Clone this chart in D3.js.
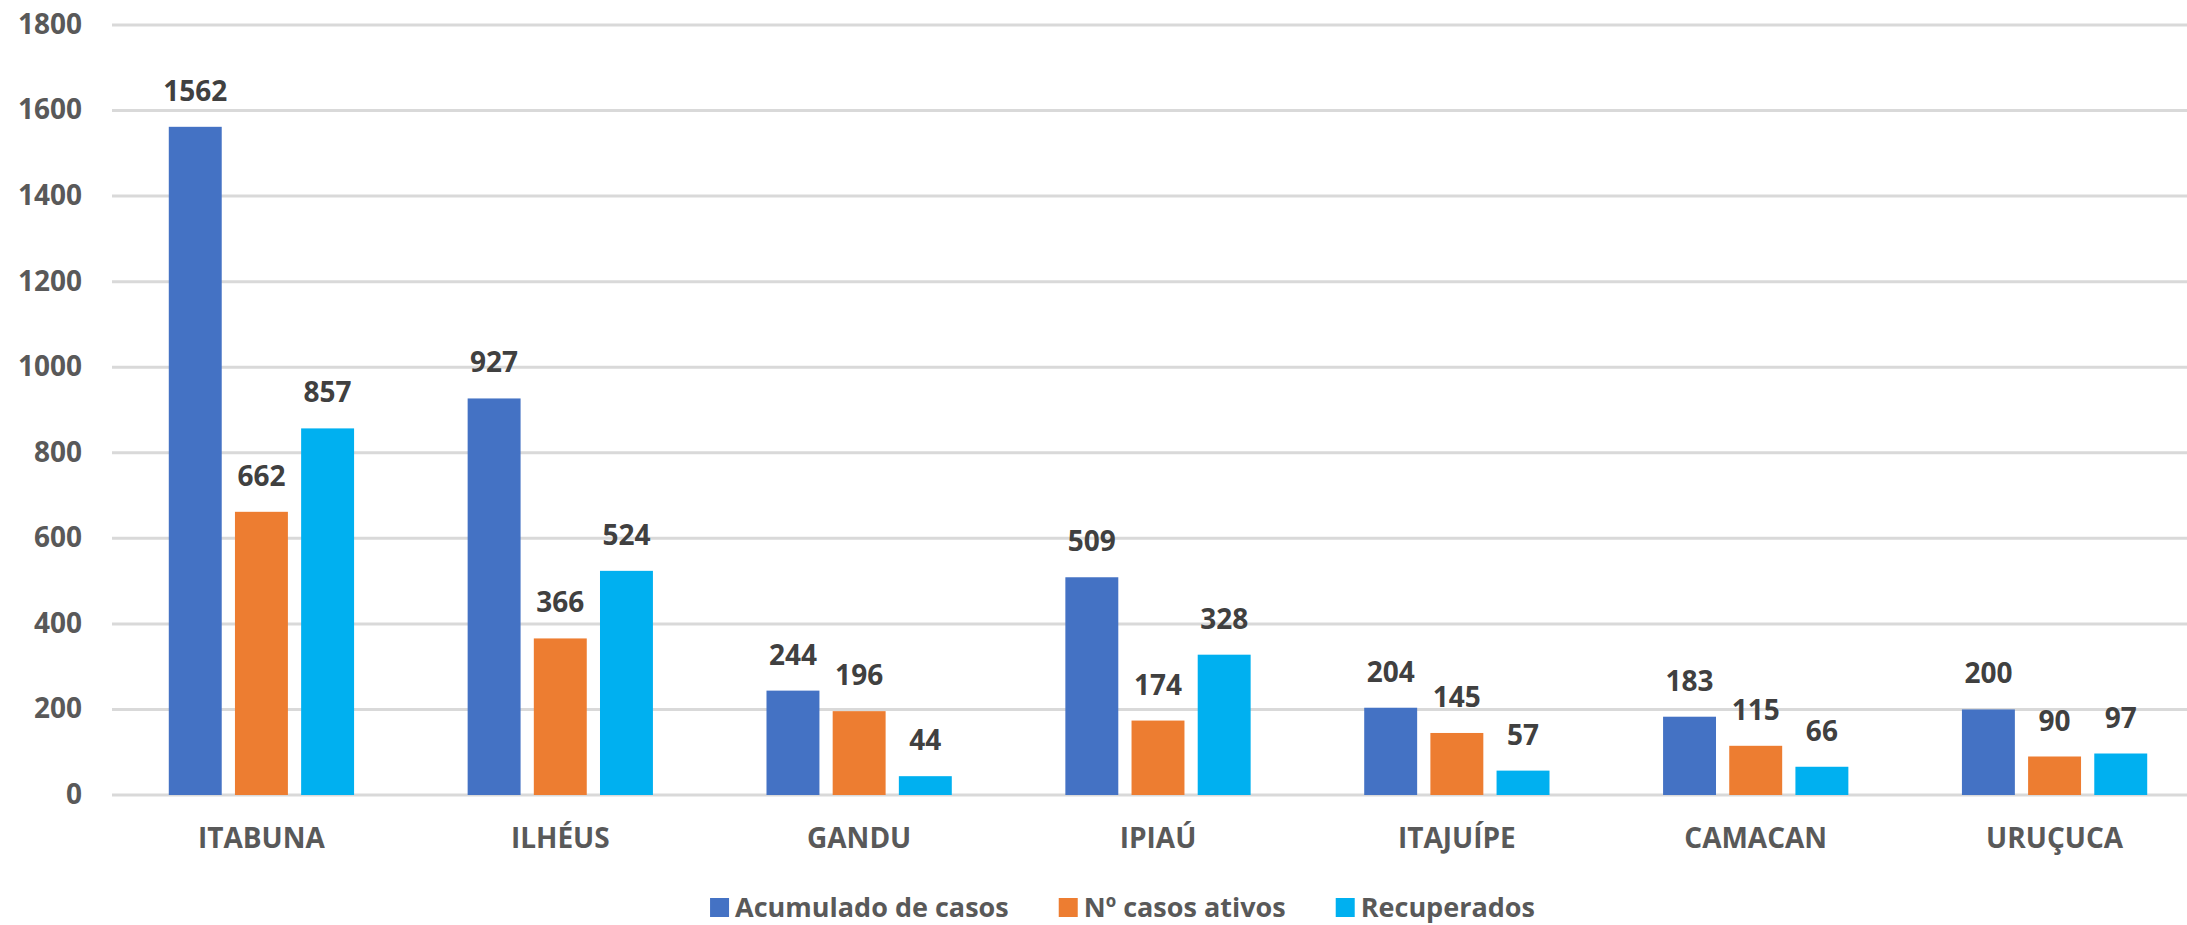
<!DOCTYPE html>
<html>
<head>
<meta charset="utf-8">
<script src="https://cdn.jsdelivr.net/npm/d3@7"></script>
<style>
  html, body { margin: 0; padding: 0; background: #ffffff; }
  svg { display: block; }
  text { font-family: "Open Sans", "Noto Sans", sans-serif; }
</style>
</head>
<body>
<svg id="chart" width="2187" height="925"></svg>
<script>
const categories = ["ITABUNA", "ILHÉUS", "GANDU", "IPIAÚ", "ITAJUÍPE", "CAMACAN", "URUÇUCA"];
const seriesNames = ["Acumulado de casos", "Nº casos ativos", "Recuperados"];
const acumulado = [1562, 927, 244, 509, 204, 183, 200];
const ativos = [662, 366, 196, 174, 145, 115, 90];
const recuperados = [857, 524, 44, 328, 57, 66, 97];
const yTicks = [0, 200, 400, 600, 800, 1000, 1200, 1400, 1600, 1800];
const colors = ["#4472C4", "#ED7D31", "#00B0F0"];

const seriesValues = [acumulado, ativos, recuperados];
const svg = d3.select("#chart");

const plotLeft = 112, plotRight = 2204, yBase = 795, yTop = 25;

const x0 = d3.scaleBand().domain(categories).range([plotLeft, plotRight])
  .paddingInner(0.38).paddingOuter(0.19);
const x1 = d3.scaleBand().domain(seriesNames).range([0, x0.bandwidth()])
  .paddingInner(0.2).paddingOuter(0);
const y = d3.scaleLinear().domain([0, 1800]).range([yBase, yTop]);

// gridlines
svg.append("g").selectAll("line").data(yTicks).join("line")
  .attr("x1", plotLeft).attr("x2", 2187)
  .attr("y1", d => y(d)).attr("y2", d => y(d))
  .attr("stroke", "#d9d9d9").attr("stroke-width", 3);

// y-axis labels
const yAxis = d3.axisLeft(y).tickValues(yTicks).tickSize(0).tickPadding(0).tickFormat(d3.format("d"));
const yg = svg.append("g").attr("transform", "translate(82,0)").call(yAxis);
yg.select(".domain").remove();
yg.selectAll("text")
  .attr("font-size", 28).attr("font-weight", 700).attr("fill", "#595959")
  .attr("dy", "0.3em").attr("font-family", "'Open Sans', sans-serif");

// bars
const groups = svg.append("g").selectAll("g").data(categories).join("g")
  .attr("transform", d => `translate(${x0(d)},0)`);

groups.selectAll("rect")
  .data((c, i) => seriesNames.map((s, j) => ({ s, j, v: seriesValues[j][i] })))
  .join("rect")
  .attr("x", d => x1(d.s))
  .attr("width", x1.bandwidth())
  .attr("y", d => y(d.v))
  .attr("height", d => yBase - y(d.v))
  .attr("fill", d => colors[d.j]);

groups.selectAll("text.val")
  .data((c, i) => seriesNames.map((s, j) => ({ s, j, v: seriesValues[j][i] })))
  .join("text")
  .attr("class", "val")
  .attr("x", d => x1(d.s) + x1.bandwidth() / 2)
  .attr("y", d => y(d.v) - 26)
  .attr("text-anchor", "middle")
  .attr("font-size", 28).attr("font-weight", 700).attr("fill", "#404040")
  .text(d => d.v);

// x-axis labels
const xAxis = d3.axisBottom(x0).tickSize(0).tickPadding(0);
const xg = svg.append("g").attr("transform", "translate(0,848)").call(xAxis);
xg.select(".domain").remove();
xg.selectAll("text")
  .attr("font-size", 28).attr("font-weight", 700).attr("fill", "#595959")
  .attr("dy", 0).attr("font-family", "'Open Sans', sans-serif");

// legend
const legend = svg.append("g");
const items = legend.selectAll("g").data(seriesNames).join("g");
items.append("rect").attr("width", 19).attr("height", 19).attr("y", 898)
  .attr("fill", (d, i) => colors[i]);
items.append("text").attr("x", 25).attr("y", 917)
  .attr("font-size", 27).attr("font-weight", 700).attr("fill", "#595959")
  .text(d => d);
let widths = [];
items.each(function() { widths.push(25 + d3.select(this).select("text").node().getComputedTextLength()); });
const gap = 50;
const total = d3.sum(widths) + gap * (widths.length - 1);
let cx = 1122.5 - total / 2;
items.attr("transform", (d, i) => {
  const t = `translate(${cx},0)`;
  cx += widths[i] + gap;
  return t;
});
</script>
</body>
</html>
